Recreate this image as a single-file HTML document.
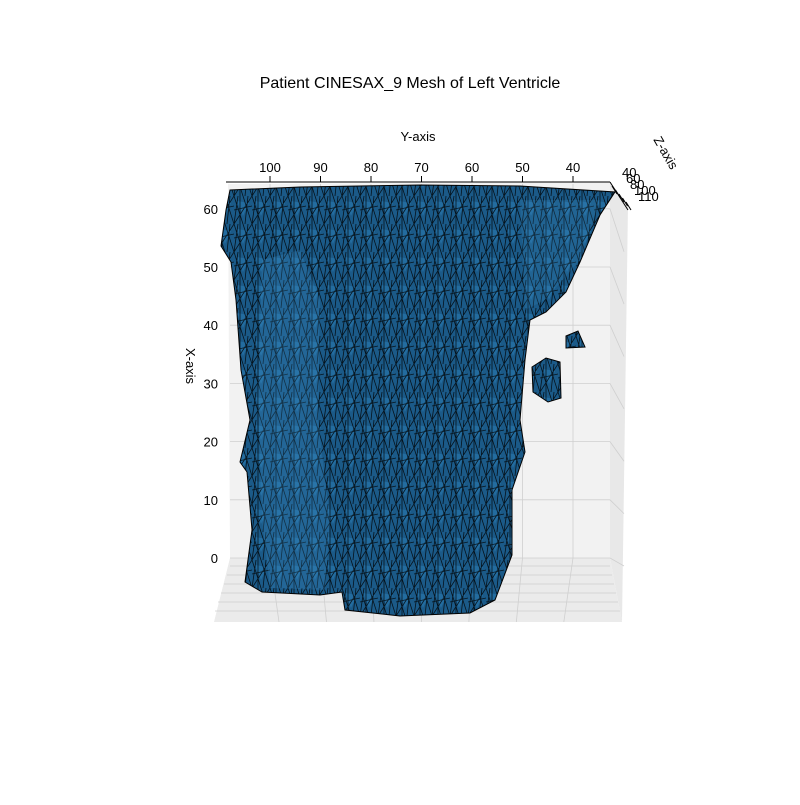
<!DOCTYPE html>
<html><head><meta charset="utf-8"><style>
body{margin:0;background:#fff;}
svg text{font-family:"Liberation Sans",sans-serif;fill:#000;}
</style></head><body>
<svg width="800" height="800" viewBox="0 0 800 800">
<defs>
<pattern id="mesh" width="18" height="28" patternUnits="userSpaceOnUse">
<rect width="18" height="28" fill="#1b5a88"/>
<path d="M3 5L9 20L15 7Z" fill="#2a7ab2" opacity="0.55"/>
<path d="M0 0L9 28M9 0L18 28M0 14L18 10M4 0L0 28M14 0L11 28M0 28L18 0M6 0L6 28" stroke="#000" stroke-width="0.8" fill="none" opacity="0.8"/>
</pattern>
</defs>
<text x="410" y="88" font-size="16" text-anchor="middle">Patient CINESAX_9 Mesh of Left Ventricle</text>
<g id="panes">
<polygon points="228,184 610,182 610,558 230,558" fill="#f2f2f2"/>
<polygon points="610,182 628,205 622,622 610,558" fill="#e8e8e8"/>
<polygon points="230,558 610,558 622,622 214,622" fill="#ebebeb"/>
</g>
<g id="grid" stroke="#cfcfcf" stroke-width="0.8"></g>
<g id="axes"></g>
<g>
<polygon points="230,190 300,187 420,185 520,186 615,192 600,215 580,262 566,292 546,312 530,320 525,360 520,420 525,452 512,490 512,555 495,600 470,613 400,616 345,610 342,592 320,595 262,592 245,582 252,530 247,472 240,462 250,420 241,370 236,300 231,262 221,246 226,210" fill="url(#mesh)" stroke="#000" stroke-width="1"/>
<polygon points="262,260 300,250 320,300 318,420 330,520 325,590 270,588 262,520 258,400" fill="#3b8ac4" opacity="0.25"/>
<polygon points="520,200 600,200 580,260 545,300 525,310" fill="#3b8ac4" opacity="0.2"/>
<polygon points="566,336 578,331 585,347 566,348" fill="url(#mesh)" stroke="#000"/>
<polygon points="532,367 546,358 560,362 561,398 548,402 533,392" fill="url(#mesh)" stroke="#000"/>
</g>
<text x="418" y="141" font-size="13" text-anchor="middle">Y-axis</text>
<text transform="translate(186,366) rotate(90)" font-size="13" text-anchor="middle">X-axis</text>
<text transform="translate(662,155) rotate(60)" font-size="13" text-anchor="middle">Z-axis</text>
<script>
const yTicks=[100,90,80,70,60,50,40];
const xTicks=[60,50,40,30,20,10,0];
const zTicks=[40,60,80,100,110];
const svg=document.querySelector('svg');
const NS='http://www.w3.org/2000/svg';
const yPos=v=>270+(100-v)*5.05;
const xPos=v=>558-v*5.82;
function mk(tag,attrs,parent){const e=document.createElementNS(NS,tag);for(const k in attrs)e.setAttribute(k,attrs[k]);(parent||svg).appendChild(e);return e;}
const grid=document.getElementById('grid'),axes=document.getElementById('axes');
yTicks.forEach(v=>{const x=yPos(v);
 const g=mk('line',{x1:x,y1:184,x2:x,y2:558},grid);
 
 
 const fl=mk('line',{x1:x,y1:558,x2:x-(x-420)*0.06,y2:622},grid);
 
 
 const t=mk('line',{x1:x,y1:182,x2:x,y2:176,stroke:'#000'},axes);
 
 
 const l=mk('text',{x:x,y:172,'font-size':13,'text-anchor':'middle'},axes);l.textContent=v;
 
 
});
xTicks.forEach(v=>{const y=xPos(v);
 const g=mk('line',{x1:230,y1:y,x2:610,y2:y},grid);
 
 
 const s=mk('line',{x1:610,y1:y,x2:624,y2:y+8+(558-y)*0.1},grid);
 
 
 const l=mk('text',{x:218,y:y+5,'font-size':13,'text-anchor':'end'},axes);l.textContent=v;
 
 
});
[566,575,584,593,602,611].forEach((y,i)=>{const g=mk('line',{x1:230-i*3,y1:y,x2:610+i*2,y2:y},grid);
 
 });
const ax=mk('line',{x1:226,y1:182,x2:610,y2:182,stroke:'#000'},axes);


const zl=mk('line',{x1:610,y1:182,x2:628,y2:210,stroke:'#000'},axes);


zTicks.forEach((v,i)=>{const x=612+i*3.5,y=186+i*4;
 const t=mk('line',{x1:x,y1:y,x2:x+5,y2:y+8,stroke:'#000'},axes);
 
 
 const l=mk('text',{x:622+i*4,y:177+i*6,'font-size':13},axes);l.textContent=v;
 
 
});
</script>
</svg>
</body></html>
